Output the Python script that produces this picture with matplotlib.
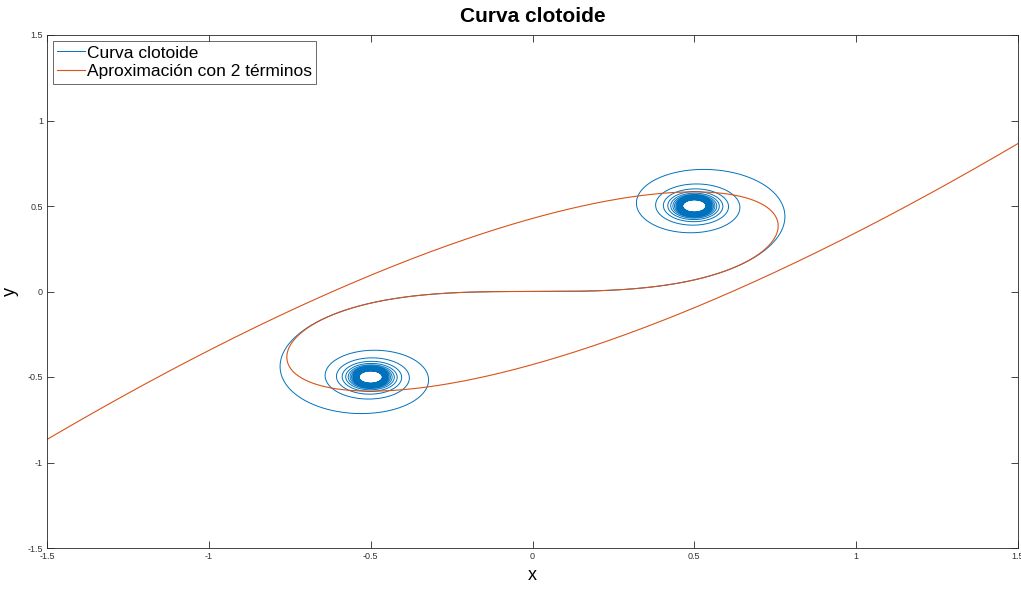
import numpy as np
import matplotlib
matplotlib.use("Agg")
import matplotlib.pyplot as plt

# Chart parameters (clothoid: Fresnel integrals C(t), S(t))
t_max_spiral = 9.0           # parameter range of the exact clothoid
t_max_approx = 2.0           # parameter range of the 2-term series
n_points = 400001
series_labels = ["Curva clotoide", "Aproximación con 2 términos"]
title_text = "Curva clotoide"
x_ticks = [-1.5, -1, -0.5, 0, 0.5, 1, 1.5]
y_ticks = [-1.5, -1, -0.5, 0, 0.5, 1, 1.5]
x_tick_labels = ["-1.5", "-1", "-0.5", "0", "0.5", "1", "1.5"]
y_tick_labels = ["-1.5", "-1", "-0.5", "0", "0.5", "1", "1.5"]

# Exact clothoid by numerical integration
t = np.linspace(-t_max_spiral, t_max_spiral, n_points)
dt = t[1] - t[0]
fc = np.cos(np.pi * t**2 / 2)
fs = np.sin(np.pi * t**2 / 2)
C = np.concatenate([[0], np.cumsum((fc[1:] + fc[:-1]) / 2 * dt)])
S = np.concatenate([[0], np.cumsum((fs[1:] + fs[:-1]) / 2 * dt)])
i0 = np.argmin(np.abs(t))
C -= C[i0]
S -= S[i0]

# Two-term series approximation
ta = np.linspace(-t_max_approx, t_max_approx, 4001)
Xa = ta - (np.pi**2 / 40) * ta**5
Ya = (np.pi / 6) * ta**3 - (np.pi**3 / 336) * ta**7

plt.rcParams['font.family'] = ['Liberation Sans', 'DejaVu Sans']
fig = plt.figure(figsize=(10.21, 5.90), dpi=100)
ax = fig.add_axes([47 / 1021, 1 - 548 / 590, (1018 - 47) / 1021, (548 - 35) / 590])

ax.plot(C, S, color='#0072BD', lw=0.7, label=series_labels[0])
ax.plot(Xa, Ya, color='#D95319', lw=0.8, label=series_labels[1])

ax.set_xlim(-1.5, 1.5)
ax.set_ylim(-1.5, 1.5)
ax.set_xticks(x_ticks)
ax.set_xticklabels(x_tick_labels)
ax.set_yticks(y_ticks)
ax.set_yticklabels(y_tick_labels)
ax.tick_params(direction='in', length=5, width=0.6, colors='#262626',
               labelsize=6.5, top=True, right=True, pad=3)
for lab in ax.get_xticklabels() + ax.get_yticklabels():
    lab.set_color('#333333')
for sp in ax.spines.values():
    sp.set_color('#262626')
    sp.set_linewidth(0.6)

ax.set_title(title_text, fontsize=15, fontweight='bold', pad=9)
ax.set_xlabel('x', fontsize=13, labelpad=4)
ax.set_ylabel('y', fontsize=13, labelpad=6)

leg = ax.legend(loc='upper left', fontsize=12.5, frameon=True, fancybox=False,
                edgecolor='#262626', borderpad=0.25, handlelength=1.6,
                handletextpad=0.1, labelspacing=0.2, borderaxespad=0.35)
leg.get_frame().set_linewidth(0.6)

fig.savefig('out.png', dpi=100)
